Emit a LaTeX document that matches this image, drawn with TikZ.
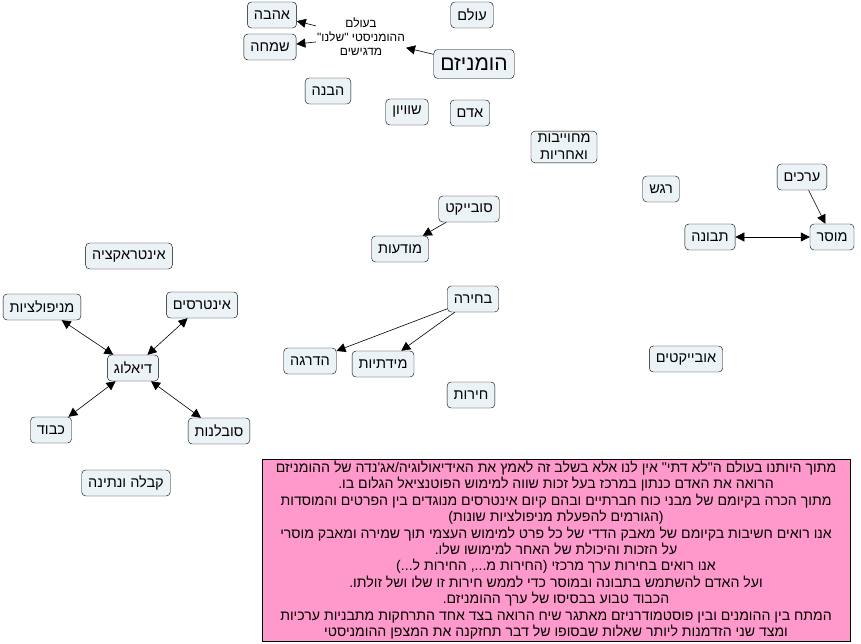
\documentclass[tikz,border=0pt]{standalone}
\usepackage{fontspec}
\setmainfont{Liberation Sans}
\newfontfamily\hebfont[Script=Hebrew,Ligatures=TeXOff]{Liberation Sans}
\TeXXeTstate=1
\usetikzlibrary{arrows.meta}
\newcommand{\heb}[1]{\beginR #1\endR}
\definecolor{conceptfill}{RGB}{236,243,246}
\definecolor{notepink}{RGB}{255,153,204}

\begin{document}
\begin{tikzpicture}[x=1pt, y=-1pt, >={Triangle[length=9pt,width=9pt]},
  concept/.style={draw, rounded corners=4pt, fill=conceptfill, inner xsep=6.5pt,
    inner ysep=3pt, minimum height=26pt, font=\hebfont\fontsize{14.5}{17}\selectfont},
  phrase/.style={align=center, inner sep=1pt, font=\hebfont\fontsize{12}{14}\selectfont},
  link/.style={->, line width=0.6pt},
  twoway/.style={<->, line width=0.6pt}]
  \useasboundingbox (0,0) rectangle (861,644);

  % top: humanism
  \node[concept] (olam) at (472,15) {\heb{עולם}};
  \node[concept] (ahava) at (272,15) {\heb{אהבה}};
  \node[concept] (simcha) at (270,47) {\heb{שמחה}};
  \node[phrase] (madgishim) at (361,37) {\heb{בעולם}\\\heb{ההומניסטי "שלנו"}\\\heb{מדגישים}};
  \node[concept, font=\hebfont\fontsize{21}{24}\selectfont, minimum height=29pt] (humanism) at (474,64) {\heb{הומניזם}};
  \node[concept] (havana) at (328,91) {\heb{הבנה}};
  \node[concept] (shivyon) at (407,112) {\heb{שוויון}};
  \node[concept] (adam) at (470,113) {\heb{אדם}};
  \node[concept, align=center] (mechuyavut) at (564,147) {\heb{מחוייבות}\\\heb{ואחריות}};
  \node[concept] (regesh) at (661,189) {\heb{רגש}};

  % right: values
  \node[concept] (arachim) at (802,177) {\heb{ערכים}};
  \node[concept] (musar) at (832,237) {\heb{מוסר}};
  \node[concept] (tvuna) at (710,237) {\heb{תבונה}};
  \node[concept] (objects) at (686,359) {\heb{אובייקטים}};

  % middle
  \node[concept] (subject) at (469,209) {\heb{סובייקט}};
  \node[concept] (mudaut) at (400,249) {\heb{מודעות}};
  \node[concept] (bechira) at (473,299) {\heb{בחירה}};
  \node[concept] (hadraga) at (310,361) {\heb{הדרגה}};
  \node[concept] (midatiut) at (383,364) {\heb{מידתיות}};
  \node[concept] (cheirut) at (471,395) {\heb{חירות}};

  % left: dialogue
  \node[concept] (interaction) at (129,256) {\heb{אינטראקציה}};
  \node[concept] (manipulations) at (42,307) {\heb{מניפולציות}};
  \node[concept] (interests) at (202,305) {\heb{אינטרסים}};
  \node[concept] (dialog) at (133,368) {\heb{דיאלוג}};
  \node[concept] (kavod) at (51,430) {\heb{כבוד}};
  \node[concept] (savlanut) at (219,431) {\heb{סובלנות}};
  \node[concept] (kabala) at (126,483) {\heb{קבלה ונתינה}};

  % note
  \node[draw, fill=notepink, minimum width=588pt, minimum height=181pt, align=center,
    inner sep=2pt, font=\hebfont\fontsize{14.1}{16.4}\selectfont] (note) at (556,550)
    {\heb{מתוך היותנו בעולם ה"לא דתי" אין לנו אלא בשלב זה לאמץ את האידיאולוגיה/אג'נדה של ההומניזם}\\
     \heb{הרואה את האדם כנתון במרכז בעל זכות שווה למימוש הפוטנציאל הגלום בו.}\\
     \heb{מתוך הכרה בקיומם של מבני כוח חברתיים ובהם קיום אינטרסים מנוגדים בין הפרטים והמוסדות}\\
     \heb{(הגורמים להפעלת מניפולציות שונות)}\\
     \heb{אנו רואים חשיבות בקיומם של מאבק הדדי של כל פרט למימוש העצמי תוך שמירה ומאבק מוסרי}\\
     \heb{על הזכות והיכולת של האחר למימושו שלו.}\\
     \heb{אנו רואים בחירות ערך מרכזי (החירות מ..., החירות ל...)}\\
     \heb{ועל האדם להשתמש בתבונה ובמוסר כדי לממש חירות זו שלו ושל זולתו.}\\
     \heb{הכבוד טבוע בבסיסו של ערך ההומניזם.}\\
     \heb{המתח בין ההומנים ובין פוסטמודרניזם מאתגר שיח הרואה בצד אחד התרחקות מתבניות ערכיות}\\
     \heb{ומצד שני הזדמנות ליותר שאלות שבסופו של דבר תחזקנה את המצפן ההומניסטי}};

  % links
  \draw[link] (humanism) -- (madgishim);
  \draw[link] (madgishim) -- (ahava);
  \draw[link] (madgishim) -- (simcha);
  \draw[link] (subject) -- (mudaut);
  \draw[link] (arachim) -- (musar);
  \draw[twoway] (tvuna) -- (musar);
  \draw[link] (bechira) -- (hadraga);
  \draw[link] (bechira) -- (midatiut);
  \draw[twoway] (dialog) -- (manipulations);
  \draw[twoway] (dialog) -- (interests);
  \draw[twoway] (dialog) -- (kavod);
  \draw[twoway] (dialog) -- (savlanut);
\end{tikzpicture}
\end{document}
